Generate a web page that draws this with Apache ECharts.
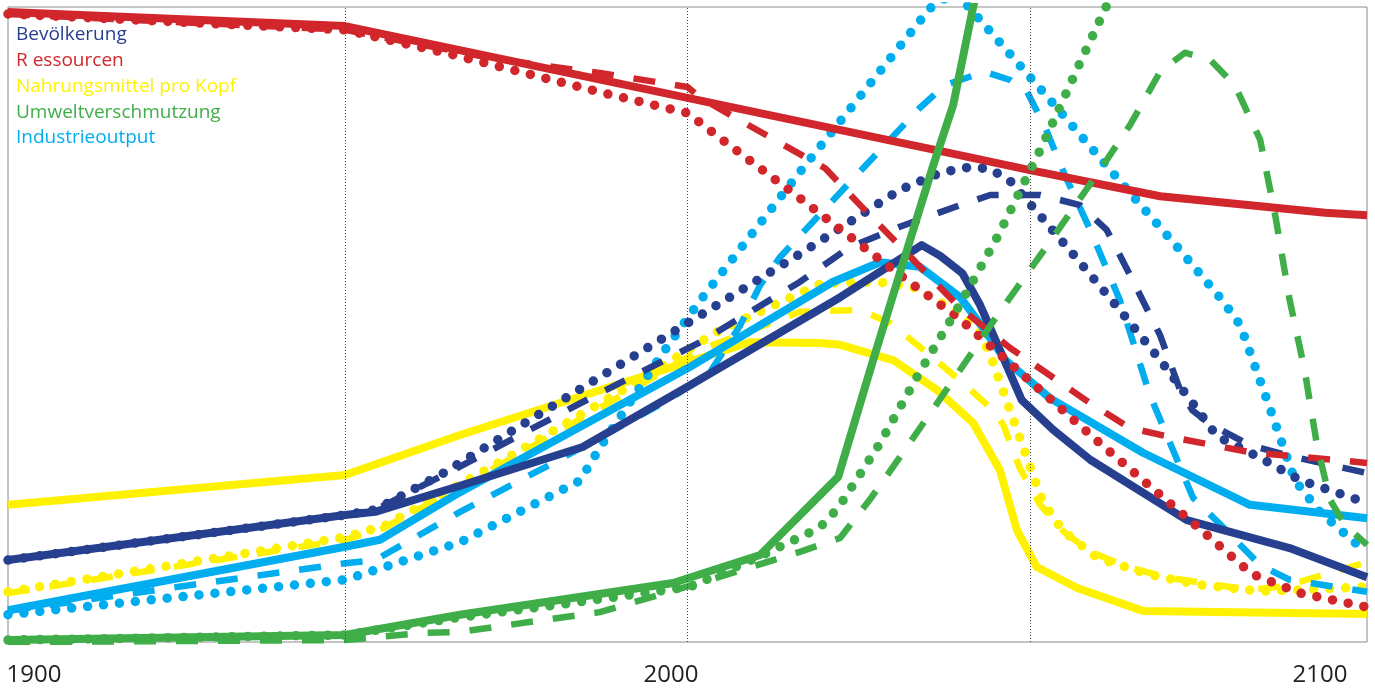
<!DOCTYPE html>
<html>
<head>
<meta charset="utf-8">
<script src="https://cdn.jsdelivr.net/npm/echarts@6/dist/echarts.min.js"></script>
<style>
  html, body { margin: 0; padding: 0; background: #ffffff; }
  #chart { width: 1375px; height: 691px; }
</style>
</head>
<body>
<div id="chart"></div>
<script>
// Variable names shown in the legend
const variableNames = ['Bevölkerung', 'R essourcen', 'Nahrungsmittel pro Kopf', 'Umweltverschmutzung', 'Industrieoutput'];

// Year labels under the plot and the marked years (vertical dotted lines)
const yearLabels = ['1900', '2000', '2100'];
const markedYears = [1950, 2000, 2050];

// Each run: [year, relative level]; solid = standard run, dashed and dotted = alternative runs
const populationSolid = [[1900.8,12.9],[1950,20],[1954.4,20.5],[1966.8,24.6],[1984.7,30.7],[2000,40.2],[2022.3,54.3],[2034.2,62.5],[2036.9,60.8],[2040.1,58.1],[2042.7,53.1],[2045.6,46],[2048.8,38.1],[2053.4,33.4],[2058.8,28.7],[2072.9,19.2],[2087.9,14.8],[2099.2,10.2]];
const populationDashed = [[1900.8,12.9],[1950,20],[1954.4,20.8],[1965.3,26.8],[1987.2,39.2],[2001.8,47.2],[2016.4,56.7],[2023.7,62.2],[2031,65.4],[2039.8,68.8],[2044.2,70.4],[2051.5,70.4],[2057.3,68.8],[2061.2,64.9],[2064.6,57.8],[2069,48.3],[2071.9,39.7],[2073.7,36.5],[2076.3,34.3],[2082.1,31],[2087.9,29.3],[2099.2,26.6]];
const populationDotted = [[1900.8,12.9],[1950,20],[1954.4,20.8],[1963.9,26.3],[1979.9,36.9],[2000,50.2],[2016.4,61.1],[2031,71.2],[2036.9,73.9],[2041.2,74.8],[2044.2,74.5],[2047.1,72.6],[2050,69],[2055.8,61.7],[2063.1,52.3],[2069,44.4],[2073.4,38.1],[2077.3,32.4],[2083.6,29],[2089.4,25.5],[2099.2,21.9]];

const resourcesSolid = [[1900.8,99.2],[1950,97],[2000,85.7],[2036.1,77.5],[2050,74.3],[2069,70.2],[2093.1,67.6],[2099.2,67.2]];
const resourcesDashed = [[1900.8,98.9],[1950,96.4],[1972.6,91.7],[1987.2,89.6],[2000,87.4],[2001.8,85.8],[2006.6,82.8],[2013.5,78.6],[2020.1,74.6],[2025.2,68.8],[2030.6,62.8],[2039.8,52.6],[2047.1,46.3],[2052.9,42],[2058.8,37.6],[2064.6,33.7],[2070.4,32.3],[2082.1,29.9],[2099.2,28.2]];
const resourcesDotted = [[1900.8,98.9],[1950,96.4],[1965.3,92.6],[1987.2,86.6],[2000,83.3],[2004.7,79.4],[2016.4,69.9],[2031,57.8],[2039.6,51],[2050,41.1],[2060.2,31.3],[2074.8,17.8],[2082.4,10.7],[2089.4,7.7],[2099.2,5.5]];

const foodSolid = [[1900.8,21.6],[1950,26.3],[1966.8,32.6],[2009.1,47.2],[2019.3,47.1],[2022.3,46.8],[2030,44.4],[2036.4,39.7],[2041.7,34.5],[2045.6,27.1],[2048.1,17.6],[2051,11.8],[2056.9,8.5],[2066.5,4.9],[2099.2,4.4]];
const foodDashed = [[1900.8,7.7],[1950,16.1],[1955.8,18],[1972.6,27.9],[1993.1,40.5],[2001.8,46],[2016.4,52],[2025.2,52.3],[2029.6,50.2],[2035.4,45.2],[2040.8,40.2],[2044.6,36.5],[2046.1,34.2],[2048.5,27.4],[2051.5,21.6],[2054.8,17.5],[2058.8,14.2],[2064.6,11.7],[2070.4,10.1],[2082.1,8.2],[2087.2,8.8],[2092.3,10.4],[2099.2,12.6]];
const foodDotted = [[1900.8,7.9],[1950,16.5],[1955.8,18.3],[1972.6,28.3],[1993.1,41.3],[2004.7,49.1],[2019.6,56.5],[2027.7,56.7],[2032.9,55.9],[2039.4,52],[2042.6,48.8],[2044.2,45.2],[2051.5,23.1],[2052.9,20.5],[2054.8,17.5],[2059.9,13.2],[2067.5,10.6],[2074.8,9],[2083.6,8],[2089.4,8.2],[2099.2,8.7]];

const pollutionSolid = [[1900.8,0.3],[1950,1.1],[1966.8,4.3],[1997.9,9.3],[2010.6,13.7],[2022,26],[2027.1,44.4],[2031,58.1],[2035.8,74.8],[2038.8,84.6],[2041.7,100],[2044.2,110.6]];
const pollutionDashed = [[1900.8,0],[1950,0.3],[1960.9,1.4],[1966.8,1.6],[1987.2,4.7],[2001.8,9.3],[2016.4,14.2],[2022.3,16.4],[2026.6,22.4],[2031,29.1],[2038.3,40.5],[2045.6,52],[2052.9,63],[2060.2,74.3],[2064.6,81.4],[2069,89.8],[2072.6,92.8],[2076.3,91.7],[2079.9,87.7],[2083.6,79.1],[2085.8,67.2],[2087.9,53.9],[2090.1,42.8],[2091.9,31],[2093.8,22.4],[2096,18.4],[2099.2,15.3]];
const pollutionDotted = [[1900.8,0.3],[1950,1.1],[1966.8,3.9],[1982.1,6],[2000.4,8.7],[2010.6,13.5],[2019.3,18],[2022,21.1],[2028.1,31.3],[2033.9,42.5],[2039.8,53.2],[2045.3,63.9],[2051.5,77.5],[2057.3,91.2],[2061.1,100],[2064.6,108.9]];

const industrySolid = [[1900.8,5],[1950,15],[1955.1,16.1],[1966.8,23.6],[2000,43.1],[2021.2,56.7],[2028.1,59.8],[2033.9,59.1],[2039.8,54.3],[2043.4,49.1],[2046.4,44.4],[2052.9,38.4],[2066.5,29.8],[2082.1,21.6],[2099.2,19.5]];
const industryDashed = [[1900.8,4.9],[1950,12.4],[1954.4,12.9],[1966.8,20.5],[1980.4,28.2],[1996.7,37.8],[2003.3,42.5],[2007.7,49.9],[2010.6,56.2],[2013.5,60.6],[2023.7,72.4],[2033.9,84.1],[2037.6,87.7],[2043.4,89.8],[2047.1,88.5],[2049.6,86.6],[2052.2,81.1],[2055.1,73.5],[2058.8,64.9],[2063.1,53.9],[2067.5,38.9],[2071.2,29.4],[2073.8,22.7],[2077.7,18.6],[2083.6,12.1],[2087.9,9.8],[2099.2,7.9]];
const industryDotted = [[1900.8,4.3],[1950,9.8],[1953.2,10.9],[1966.8,15.7],[1984.3,25.4],[1987.2,30.6],[1996,44.9],[2001.8,53.7],[2016.4,74],[2028.7,90.7],[2035.4,99.8],[2039.1,102.4],[2043,97.6],[2052.9,85.4],[2062.7,73.1],[2071.9,61.7],[2078,53.9],[2080.7,49.9],[2085,36.9],[2088.7,25.4],[2092.3,20.5],[2099.2,14]];

const colors = {
  population: '#263f8e',
  resources: '#d1262b',
  food: '#fff200',
  pollution: '#3fae49',
  industry: '#00aeef'
};

// Stroke styles for the three runs
const strokes = {
  solid: { width: 8, type: 'solid' },
  dashed: { width: 6.5, type: [22, 20], cap: 'butt' },
  dotted: { width: 9.5, type: [0, 16], cap: 'round' }
};

// Drawing order: bottom to top
const groups = [
  { key: 'food', name: variableNames[2], runs: { dotted: foodDotted, dashed: foodDashed, solid: foodSolid } },
  { key: 'industry', name: variableNames[4], runs: { dotted: industryDotted, dashed: industryDashed, solid: industrySolid } },
  { key: 'population', name: variableNames[0], runs: { dotted: populationDotted, dashed: populationDashed, solid: populationSolid } },
  { key: 'resources', name: variableNames[1], runs: { dotted: resourcesDotted, dashed: resourcesDashed, solid: resourcesSolid } },
  { key: 'pollution', name: variableNames[3], runs: { dotted: pollutionDotted, dashed: pollutionDashed, solid: pollutionSolid } }
];

const series = [];
// Year markers drawn underneath all curves
series.push({
  type: 'line',
  name: 'marks',
  data: [],
  silent: true,
  z: 1,
  markLine: {
    silent: true,
    symbol: ['none', 'none'],
    label: { show: false },
    lineStyle: { color: '#444', width: 1, type: [1, 2] },
    data: markedYears.map(y => ({ xAxis: y }))
  }
});
groups.forEach(g => {
  ['dotted', 'dashed', 'solid'].forEach(run => {
    const s = strokes[run];
    series.push({
      type: 'line',
      name: g.name,
      data: g.runs[run],
      showSymbol: false,
      symbol: 'none',
      smooth: false,
      clip: true,
      z: 2,
      color: colors[g.key],
      lineStyle: { color: colors[g.key], width: s.width, type: s.type, cap: s.cap || 'butt', join: 'round' },
      emphasis: { disabled: true }
    });
  });
});

const legendColors = [colors.population, colors.resources, colors.food, colors.pollution, colors.industry];

const chart = echarts.init(document.getElementById('chart'), null, { renderer: 'canvas' });
chart.setOption({
  animation: false,
  backgroundColor: '#ffffff',
  grid: { left: 8, right: 8, top: 7, bottom: 49, show: true, borderColor: '#8a8a8a', borderWidth: 1, backgroundColor: 'transparent' },
  xAxis: {
    type: 'value', min: 1900.8, max: 2099.2,
    axisLine: { show: false }, axisTick: { show: false }, axisLabel: { show: false }, splitLine: { show: false }
  },
  yAxis: {
    type: 'value', min: 0, max: 100,
    axisLine: { show: false }, axisTick: { show: false }, axisLabel: { show: false }, splitLine: { show: false }
  },
  legend: {
    orient: 'vertical',
    left: 6,
    top: 20,
    icon: 'none',
    itemWidth: 0,
    itemHeight: 10,
    itemGap: 5.7,
    selectedMode: false,
    textStyle: { fontFamily: 'Open Sans', fontSize: 19, lineHeight: 20 },
    data: variableNames.map((n, i) => ({ name: n, textStyle: { color: legendColors[i] } }))
  },
  graphic: yearLabels.map((t, i) => ({
    type: 'text',
    x: [34, 671, 1320][i],
    y: 675,
    style: { text: t, fill: '#231f20', font: '24px "Open Sans"', textAlign: 'center', textVerticalAlign: 'middle' }
  })),
  series: series
});
</script>
</body>
</html>
